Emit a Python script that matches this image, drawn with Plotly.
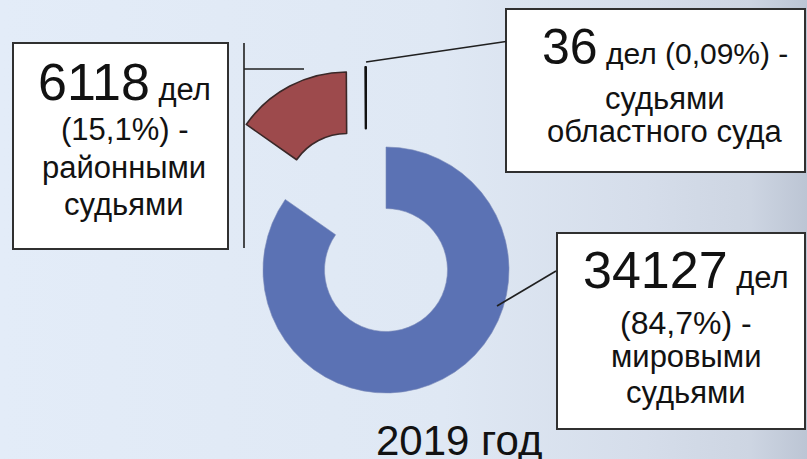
import base64
import plotly.graph_objects as go

W, H = 807, 459

# ---- data ----
labels = ["мировыми судьями", "районными судьями", "судьями областного суда"]
values = [34127, 6118, 36]
shares = ["84,7%", "15,1%", "0,09%"]
colors = ["#5B72B4", "#9D4A4C", "#9BBB59"]
year_label = "2019 год"
unit = "дел"

FONT = "Liberation Sans, Arial, sans-serif"
TXT = "#121212"
CLEAR = "rgba(0,0,0,0)"


def fx(x):
    return x / W


def fy(y):
    return 1 - y / H


def dom(cx, cy, r):
    return dict(x=[(cx - r) / W, (cx + r) / W], y=[1 - (cy + r) / H, 1 - (cy - r) / H])


R = 123


def pie_part(cx, cy, idx, lw, lc):
    cols = [colors[i] if i == idx else CLEAR for i in range(len(values))]
    widths = [lw if i == idx else 0 for i in range(len(values))]
    return go.Pie(
        values=values, labels=labels, sort=False, direction="clockwise", rotation=0,
        hole=0.5, domain=dom(cx, cy, R),
        marker=dict(colors=cols, line=dict(color=lc, width=widths)),
        textinfo="none", hoverinfo="label+value+percent", showlegend=False,
    )


fig = go.Figure()
fig.add_trace(pie_part(386, 270, 0, 0.6, "#7A8AB8"))   # main ring
fig.add_trace(pie_part(347, 195, 1, 1.6, "#3A2828"))   # exploded district slice
fig.add_trace(pie_part(366, 190, 2, 2.0, "#111111"))   # exploded regional slice

# ---- background gradient ----
svg = f"""<svg xmlns='http://www.w3.org/2000/svg' width='{W}' height='{H}'>
<defs><linearGradient id='g' x1='0' y1='0' x2='1' y2='0'>
<stop offset='0' stop-color='#E3ECF8'/>
<stop offset='0.55' stop-color='#DFE8F4'/>
<stop offset='0.8' stop-color='#D5DDEA'/>
<stop offset='0.93' stop-color='#CDD5E2'/>
<stop offset='1' stop-color='#BCC5D4'/>
</linearGradient></defs>
<rect width='{W}' height='{H}' fill='url(#g)'/></svg>"""
src = "data:image/svg+xml;base64," + base64.b64encode(svg.encode()).decode()

shapes = []


def box(x0, y0, x1, y1):
    shapes.append(dict(type="rect", xref="paper", yref="paper", x0=fx(x0), x1=fx(x1),
                       y0=fy(y1), y1=fy(y0), fillcolor="white",
                       line=dict(color="#303030", width=2), layer="above"))


def seg(x0, y0, x1, y1, w=1.6):
    shapes.append(dict(type="line", xref="paper", yref="paper", x0=fx(x0), x1=fx(x1),
                       y0=fy(y0), y1=fy(y1), line=dict(color="#202020", width=w)))


box(13, 43, 228, 249)
box(506, 9, 805, 172)
box(557, 233, 805, 429)

seg(244, 43, 244, 248)
seg(244, 69, 304, 69)
seg(366, 62, 506, 41.5)
seg(497, 306, 556, 271)

annotations = []
ASC = 0.905


def line(text, cx, baseline, fs, big=None):
    top = baseline - ASC * (big if big else fs)
    annotations.append(dict(text=text, x=fx(cx), y=fy(top), xref="paper", yref="paper",
                            xanchor="center", yanchor="top", showarrow=False,
                            borderpad=0, borderwidth=0,
                            font=dict(family=FONT, size=fs, color=TXT)))


def big_line(num, rest, cx, baseline, big, fs):
    text = f"<span style='font-size:{big}px'>{num}</span> {rest}"
    line(text, cx, baseline, fs, big)


# box 1 - district judges
big_line(values[1], unit, 124, 100, 52, 31)
line(f"({shares[1]}) -", 124, 140, 31)
line("районными", 124, 178, 31)
line("судьями", 124, 215, 31)

# box 2 - regional court
big_line(values[2], f"{unit} ({shares[2]}) -", 665, 64, 50, 30)
line("судьями", 665, 109.5, 31)
line("областного суда", 665, 142, 31)

# box 3 - magistrates
big_line(values[0], unit, 686, 288, 52, 31)
line(f"({shares[0]}) -", 686, 334, 32)
line("мировыми", 686, 367, 31)
line("судьями", 686, 403, 31)

# year label
line(year_label, 459, 455, 42)

fig.update_layout(
    width=W, height=H, margin=dict(l=0, r=0, t=0, b=0),
    paper_bgcolor="#E1EAF5", plot_bgcolor="#E1EAF5",
    images=[dict(source=src, xref="paper", yref="paper", x=0, y=1, sizex=1, sizey=1,
                 sizing="stretch", layer="below", xanchor="left", yanchor="top")],
    shapes=shapes, annotations=annotations, showlegend=False,
)

fig.write_html(
    "out.html",
    config={"displayModeBar": False},
    post_script="document.body.style.margin='0';document.body.style.overflow='hidden';",
)
